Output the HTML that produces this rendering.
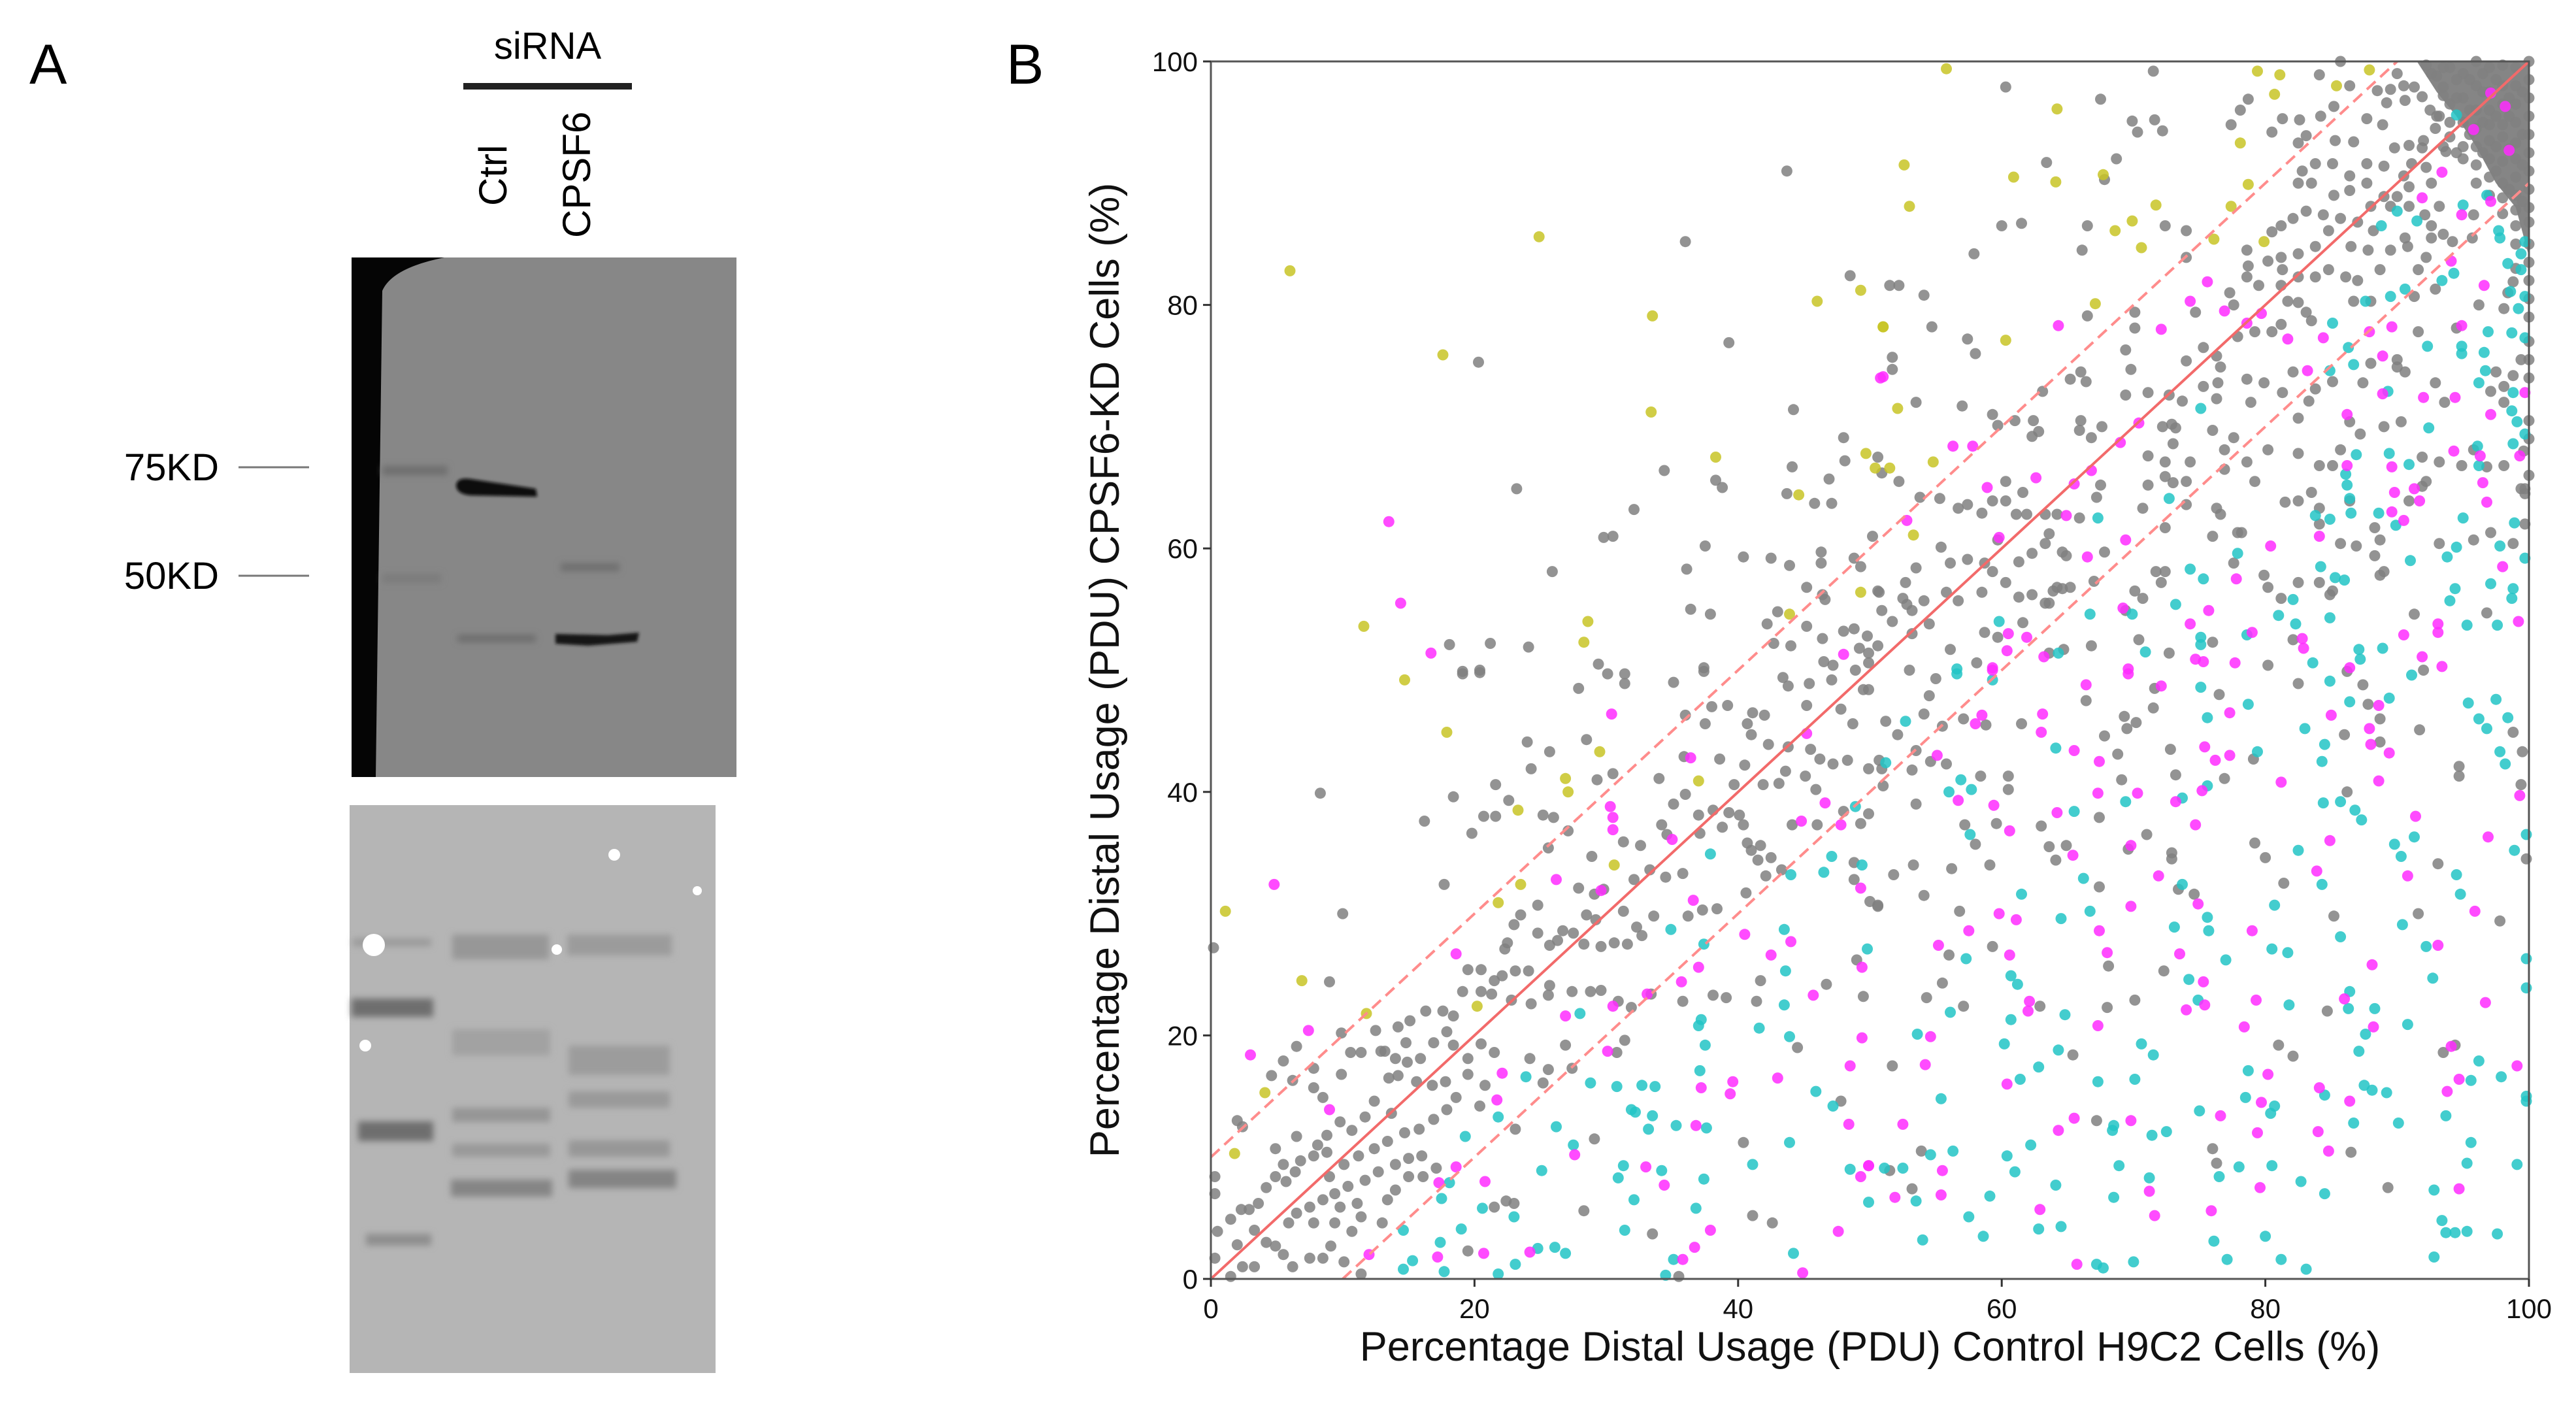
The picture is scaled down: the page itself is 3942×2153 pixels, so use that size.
<!DOCTYPE html>
<html><head><meta charset="utf-8"><style>
html,body{margin:0;padding:0;background:#fff;width:3942px;height:2153px;overflow:hidden}
svg{display:block}
text{font-family:"Liberation Sans",sans-serif}
</style></head><body>
<svg id="fig" width="3942" height="2153" viewBox="0 0 3942 2153" xmlns="http://www.w3.org/2000/svg">
<defs>
<filter id="blur4"><feGaussianBlur stdDeviation="5"/></filter>
<filter id="blur2"><feGaussianBlur stdDeviation="2.5"/></filter>
</defs>
<g>
<text x="45" y="128" font-size="86">A</text>
<text x="838" y="90" font-size="58" text-anchor="middle">siRNA</text>
<rect x="709" y="127" width="258" height="10" fill="#222"/>
<text transform="translate(775,315) rotate(-90)" font-size="60">Ctrl</text>
<text transform="translate(903,364) rotate(-90)" font-size="60">CPSF6</text>
<g>
<rect x="538" y="394" width="589" height="795" fill="#878787"/>
<path d="M538,394 L680,394 Q600,410 585,445 L575,1189 L538,1189 Z" fill="#050505"/>
<g filter="url(#blur4)">
<rect x="585" y="713" width="100" height="14" fill="#6e6e6e"/>
<rect x="585" y="878" width="90" height="14" fill="#7c7c7c"/>
<rect x="858" y="862" width="90" height="12" fill="#6e6e6e"/>
<rect x="700" y="972" width="120" height="10" fill="#6a6a6a"/>
</g>
<g filter="url(#blur2)">
<path d="M698,742 Q700,730 720,733 L820,748 L822,760 L720,758 Q698,756 698,742Z" fill="#0a0a0a"/>
<path d="M850,970 L930,972 L978,968 L975,982 L900,988 L850,985Z" fill="#181818"/>
</g>
</g>
<text x="335" y="735" font-size="58" text-anchor="end">75KD</text>
<line x1="365" y1="715" x2="473" y2="715" stroke="#777" stroke-width="3"/>
<text x="335" y="901" font-size="58" text-anchor="end">50KD</text>
<line x1="365" y1="881" x2="473" y2="881" stroke="#777" stroke-width="3"/>
<g>
<rect x="535" y="1232" width="560" height="869" fill="#b5b5b5"/>
<g filter="url(#blur4)">
<rect x="540" y="1436" width="120" height="12" fill="#9a9a9a"/>
<rect x="538" y="1528" width="125" height="28" fill="#6e6e6e"/>
<rect x="548" y="1716" width="115" height="30" fill="#6e6e6e"/>
<rect x="560" y="1888" width="100" height="18" fill="#8e8e8e"/>
<rect x="692" y="1430" width="148" height="38" fill="#979797"/>
<rect x="692" y="1575" width="150" height="40" fill="#a2a2a2"/>
<rect x="692" y="1695" width="150" height="22" fill="#959595"/>
<rect x="692" y="1750" width="150" height="20" fill="#999"/>
<rect x="690" y="1805" width="155" height="26" fill="#858585"/>
<rect x="868" y="1430" width="160" height="32" fill="#9b9b9b"/>
<rect x="870" y="1600" width="155" height="45" fill="#9c9c9c"/>
<rect x="870" y="1670" width="155" height="25" fill="#9a9a9a"/>
<rect x="870" y="1745" width="155" height="25" fill="#979797"/>
<rect x="870" y="1790" width="165" height="28" fill="#848484"/>
</g>
<circle cx="572" cy="1446" r="17" fill="#fff"/>
<circle cx="559" cy="1600" r="9" fill="#fff"/>
<circle cx="852" cy="1453" r="8" fill="#fff"/>
<circle cx="940" cy="1308" r="9" fill="#fff"/>
<circle cx="1067" cy="1363" r="7" fill="#fff"/>
</g>
</g>
<g>
<text x="1540" y="128" font-size="86">B</text>
<g id="plot"></g>
</g>
</svg>
<script>
const grayPts=[[43.7,91],[36,85.2],[48.5,82.4],[39.3,76.9],[20.3,75.3],[44.2,71.4],[48,69.1],[48.1,67.2],[44.1,66.7],[34.4,66.4],[46.9,65.7],[38.3,65.6],[38.8,65],[43.7,64.5],[45.8,63.7],[47.1,63.7],[23.2,64.9],[32.1,63.2],[29.8,60.9],[30.5,61],[37.5,60.2],[40.4,59.3],[42.5,59.2],[43.9,58.6],[46.3,59.7],[46.3,58.8],[48.8,59.2],[49.3,58.5],[50.2,61],[25.9,58.1],[36.1,58.3],[45.2,56.8],[46.4,56.2],[46.6,55.8],[50.7,56.4],[36.4,55],[37.9,54.6],[43,54.8],[42.2,53.8],[45.2,53.6],[48,53.2],[48.8,53.4],[49.8,52.8],[46.4,52.6],[42.7,52.2],[44,52],[49.2,51.8],[18.1,52.1],[21.2,52.2],[24.1,51.9],[29.4,50.5],[37.4,50.2],[46.5,50.7],[47.2,50.4],[19.1,49.9],[20.4,50],
[60.3,97.9],[71.5,99.2],[67.5,96.9],[69.9,95.1],[71.6,95.2],[70.3,94.2],[72.2,94.3],[63.4,91.7],[68.7,92],[67.8,90.3],[77.4,94.8],[78.1,96],[78.7,96.9],[80.5,94.2],[81.3,95.3],[82.6,95.2],[84.1,98.9],[86.4,98],[84.2,95.5],[85.2,96.3],[87.7,95.3],[88.9,94.8],[88.5,97.6],[89.5,97.7],[90.5,98],[91.3,97.9],[91.9,97.1],[90.6,96.8],[89.2,96.6],[90,99],[92.6,99],[85.7,100],[92.2,99.7],[93.5,97.9],[82.5,93.3],[83.1,93.9],[85.3,93.5],[86.7,93.4],[89.8,92.9],[90.9,93.1],[91.9,92.9],[93.2,95.5],[92.9,94.5],[93.7,92.6],[92.2,91.3],[91.1,91.6],[90.5,90.6],[89,91.4],[87.7,91.6],[86.4,90.6],[85.1,91.6],[83.8,91.6],[82.8,91],[82.5,90],[83.5,90],[85.2,89],[86.4,89.4],[87.7,90],[89,88.9],[90,88.9],[90.9,89.7],[92.6,90],[93.2,88.1],[92.1,87.4],[90.9,88.1],[89.5,88.1],[88,88.1],[87,86.8],[85.7,87.1],[84.4,87.4],[83.1,87.7],[82.1,87.1],[81.2,86.5],[80.5,86],[78.6,84.5],[78.7,83.2],[80.2,83.6],[81.2,83.9],[81.3,82.9],[82.5,84.2],[83.8,84.8],[84.8,86.1],[86.5,84.8],[87.8,84.5],[88.2,86.1],[89.5,84.5],[90.8,84.8],[90.6,85.5],[92.6,85.5],[93.5,85.8],[92.6,86.5],[94.2,85.2],[95.7,85.5],[95.8,87.4],[84.8,82.9],[83.8,82.3],[82.5,82.3],[81.2,81.6],[79.5,81.6],[78.6,82.3],[77.3,81],[86.1,82.3],[87,82],[88.7,82.9],[91.6,82.9],[92.2,83.9],[92.9,81.3],[91.3,80.7],[88,80.3],[86.7,80.3],[82.5,80.2],[81.7,80.3],[83.1,79.4],[83.5,78.7],[81.2,78.4],[80.5,77.8],[79.2,77.8],[77.9,77.4],[77.6,80],[74.7,79.4],[70.1,79.4],[70.1,78.1],[74,83.9],[74,86.1],[72.4,86.5],[66.5,86.5],[66.1,84.5],[60,86.5],[61.5,86.7],[57.9,84.2],[51.5,81.6],[52.2,81.6],[54.1,80.8],[54.7,78.2],[57.4,77.2],[58,76],[51.7,75.7],[51.7,74.7],[53.5,72],[57,71.7],[59.3,71],[59.7,70.1],[61,70.5],[62.4,70.5],[62.8,69.6],[62.3,69.2],[63.1,72.9],[66,70.5],[65.9,69.7],[67.6,70],[66.8,69.1],[69.4,72.6],[71.1,72.8],[69.8,74.7],[69.4,76.3],[65.2,73.9],[66.4,73.7],[66,74.5],[66.5,79.1],[72.9,70.2],[73.2,69.9],[72.2,70],[72.7,72.6],[73.7,72.1],[74,75.4],[75.3,76.5],[76.3,75.8],[76.6,74.9],[76.4,73.6],[76.3,72.3],[75.3,73.3],[78.6,73.9],[78.9,72],[79.9,73.6],[81.3,72.8],[82.1,74.5],[83.3,72.1],[83.8,73.1],[85.1,73.7],[82.5,70.7],[86.4,70.4],[87.2,69.4],[89,70],[90.3,70.4],[93.6,72],[92.9,73.6],[90.6,74.5],[90,75.5],[90,74.9],[88,75.2],[87.4,73.6],[91.6,77.8],[94.5,78.1],[97.5,74.5],[98.1,73.3],[97.1,72.9],[98.8,74.2],[98.1,72],[99.4,75.5],[98.4,81],[98.8,81.9],[98.1,79.7],[96.2,80],[95.8,68.1],[98.1,66.8],[96.8,66.7],[94.9,66.8],[93.2,67.1],[91.9,67.5],[92.2,65.5],[90.9,63.9],[86.4,63.9],[85.7,68.1],[85.1,66.8],[84.1,66.8],[82.5,67.8],[80.2,68.1],[78.6,67.1],[79.2,65.5],[77.6,69.1],[76,69.7],[76.9,68.1],[76.9,66.5],[74.3,67.1],[72.4,67.1],[71.1,67.6],[73,68.6],[72.4,65.9],[74,65.5],[73,65.4],[71.1,65.2],[70.7,63.3],[72.4,61.7],[74,63.6],[76.3,63.3],[76.6,62.8],[78.2,61.3],[76,61],[81.5,63.8],[82.5,63.9],[83.5,64.6],[84.1,63.3],[84.1,62],[85.7,60.4],[86.9,60.2],[88.3,61.7],[88.7,60.7],[91.9,65.1],[93.2,60.4],[95.8,60.7],[97.1,61.3],[98.8,60.4],[99.4,64.9],[99.7,62],[96.8,54.7],[88.7,57.8],[89,58.1],[85.1,56.5],[84.1,57.2],[82.5,57.2],[81.2,55.9],[80.2,56.8],[79.9,57.8],[77.6,58.8],[77.9,61.3],[72.4,58.1],[71.7,58.1],[72.1,57.2],[70.1,56.5],[70.7,55.9],[69.4,54.9],[67,57.3],[67.8,59.7],[64.9,59.4],[64.6,56.7],[63.9,56.5],[64.2,56.8],[65.2,56.8],[63.6,55.5],[62.3,56.2],[61.3,56],[60.3,57.2],[58.5,56.4],[56.7,55.7],[55.8,56.4],[54.1,55.7],[53.2,54.9],[52.5,55.9],[52.8,55.4],[50.9,54.9],[51.7,54],[50.6,52],[49.9,50.6],[53.2,53],[54.5,53.8],[56.1,51.7],[58.1,50.6],[58.7,53.1],[59.7,52.7],[61.6,53.9],[63.3,55.5],[66.8,52],[63.6,51.4],[64.7,51.7],[70.4,52.5],[72.7,51.4],[76,52.3],[80.2,50.4],[82.1,52.5],[84.9,56.2],[88.3,59.4],[91.3,54.6],[99.7,64.9],[50.6,67.5],[49.9,51.4],[50.9,66.2],[52.2,65.5],[53.8,64.2],[55.3,64.1],[56.7,63.3],[58.5,62.9],[60.3,63.9],[61.1,62.8],[61.9,62.8],[63.3,62.8],[64.2,62.8],[65.9,62.5],[67.5,65.2],[67.2,64.2],[61.6,64.6],[60.3,65.5],[59.3,63.9],[57.4,63.6],[55.4,60.1],[56.1,58.8],[57.4,59.1],[58.7,58.8],[59.3,58.1],[59.7,60.7],[61.3,58.9],[62.3,59.6],[63.3,60.4],[63.6,61.2],[64.6,59.7],[52.7,57.2],[53.5,58.4],[50.6,56.5],
[96,100],[97,99.5],[98,99.7],[99,99.5],[100,100],[95,99],[94,99.5],[93,98.8],[96,98],[97,97.5],[98,98],[99,98],[100,98.5],[95,97],[94,96.5],[96,96],[97,96],[98,96.5],[99,96.5],[100,97],[93,95.5],[95,95],[96,94.5],[97,94.8],[98,94.8],[99,95],[100,95.5],[94,93.8],[95,93],[96,93],[97,93.5],[98,93.8],[99,93.3],[100,94],[95,92],[96,91.5],[97,92],[98,91.8],[99,92],[100,92.5],[96,90],[97,90.5],[98,90],[99,90.5],[100,91],[97,89],[98,88.8],[99,89],[100,89.5],[98,87.5],[99,87.8],[100,88],[99,86.5],[100,86.8],[99,85],[100,85],[100,83.5],[99,83],[100,82],[100,80.5],[100,79],[100,77],[100,75.5],[100,74],[100,70.5],[100,69],[99.6,68],[100,66],[99.7,64.5],[94.5,97],[95.5,98.5],[93.5,97.2],[92.5,96],[94,95],[92,93.5],[96.5,99],[97.5,98.5],[98.5,97],[99.5,97.5],[95.5,96],[96.5,95],[97.5,95.5],[98.5,95.5],[99.5,94],[96.5,92.5],[97.5,91],[98.5,92.8],[99.5,91.5],[97.5,93],[98.5,89.5],[99.5,88.5],[96.5,97.5],[94.5,98.5],[93.5,99.5],[95.5,94],[94.5,92.5],[93.5,93],
[19.1,49.7],[20.4,49.8],[27.9,48.5],[30.1,49.7],[31.4,49.7],[31.4,48.9],[35.1,49],[37.4,49.9],[43.4,49.4],[43.8,48.7],[45.4,48.9],[47.1,49.2],[48.9,50],[49.5,48.4],[24,44.1],[25.7,43.3],[28.5,44.3],[24.3,41.9],[21.6,40.6],[18.4,39.6],[22.6,39.3],[20.7,38],[21.6,38],[25.2,38.1],[26,37.9],[16.2,37.6],[19.8,36.6],[8.3,39.9],[10,30],[0.2,27.2],[17.7,32.4],[9,24.4],[29.3,41],[30.5,41.5],[27.1,36.8],[25.6,35.4],[36,46.3],[37.5,45.6],[38,47],[39.2,47.1],[38.6,42.7],[35.9,42.9],[34,41.1],[35.1,39],[36,39.8],[40.7,45.6],[41.1,46.5],[42,46.3],[41,44.7],[42.3,43.9],[43.8,43.7],[45.5,43.5],[46.2,42.7],[47.2,42.3],[48.3,42.6],[49.9,41.9],[45.2,47.1],[47.8,46.8],[48.7,45.6],[40.5,42.2],[39.7,40.6],[41.9,40.6],[43.1,40.7],[45.1,41.3],[45.9,40.2],[43.6,41.7],[38.1,38.5],[39.3,38.3],[40.1,38.1],[40.4,37.3],[37,38.1],[34.2,37.3],[34.6,36.5],[37.1,36.6],[38.8,37.1],[40.7,35.8],[41,35.2],[41.7,35.6],[42.5,34.6],[44.1,37.3],[46,37.3],[49.3,37.4],[48,38.4],[48.8,34.2],[50,31],[48.8,32.8],[43.3,33.6],[42.1,33.1],[40.6,31.7],[38.4,30.4],[37.3,30.3],[36.2,29.8],[35.8,33.3],[34.5,33],[33.3,33.6],[32.1,32.8],[32.6,35.6],[31.3,35.9],[28.9,34.7],[27.9,32.1],[29.1,31.6],[29.8,32],[31.3,30.2],[33.6,29.8],[32.3,28.9],[32.7,28.2],[31.6,27.5],[30.6,27.6],[29.6,27.3],[28.3,27.5],[29.2,29.5],[28.5,29.9],[27.5,28.4],[26.7,28.6],[26.3,27.8],[25.7,27.4],[24.8,28.4],[23.5,29.9],[24.8,30.7],[23,29.1],[22.5,27.6],[22.3,27.1],[24.1,25.3],[23.1,25.3],[22.1,24.9],[21.5,24.5],[20.5,25.4],[19.5,25.4],[19.1,23.6],[20.5,23.6],[21.3,23.4],[22.8,22.9],[24.3,22.6],[25.7,24.1],[25.6,23.3],[27.4,23.6],[28.8,23.6],[29.6,23.7],[30.9,22.8],[31.9,22.3],[33.4,23.4],[35.8,22.8],[38.1,23.3],[39.1,23.1],[41.4,22.8],[41.7,24.5],[46.7,24.2],[49.5,23.2],[49,26.2],[31.4,19.6],[30.8,18.6],[26.9,19.2],[27.4,17.3],[25.6,17.2],[25.2,16.1],[24.2,18.1],[21.5,18.6],[20.5,19.3],[19.5,18.1],[18.4,19.2],[17.9,20.3],[16.9,19.4],[15.9,18.1],[14.9,17.8],[14,18.1],[13.2,18.7],[14.2,20.7],[15.1,21.2],[16.3,22],[17.6,22],[18.4,21.6],[14.2,16.7],[15.6,16.2],[16.8,15.9],[17.8,16.2],[18.6,14.9],[19.5,16.8],[20.8,15.9],[20.4,14.2],[23.1,12.3],[17.9,13.9],[16.9,13.1],[15.8,12.3],[14.7,12],[13.7,13.6],[12.4,14.6],[11.7,13.3],[10.7,12.2],[9.8,12.9],[8.8,11.8],[8.1,11],[7.8,10.1],[6.8,9.7],[6.4,8.8],[5.7,8],[4.9,8.4],[4.2,7.5],[3.6,6.2],[2.9,5.7],[2.3,5.7],[1.5,4.9],[0.5,3.9],[0.3,1.7],[1.5,0.2],[2.4,1],[3.3,1],[4.2,3],[4.9,2.7],[5.5,2],[6.2,1],[7.5,1.7],[8.5,1.7],[9.1,2.7],[10.1,1.4],[11.4,0.4],[9.4,4.6],[10.7,3.9],[11.4,5.1],[13,4.6],[13.4,6.5],[14,7.3],[15,8.4],[16.1,8.4],[17.1,9.1],[16,10.1],[15,9.9],[14,9.4],[12.7,8.8],[11.7,8.1],[10.4,7.6],[9.4,7],[8.5,6.5],[7.5,5.9],[6.5,5.4],[5.9,4.6],[7.8,4.6],[9.8,5.9],[11.1,6.2],[9,8.4],[10.1,9.4],[11.2,10.1],[12.4,10.7],[13.4,11.3],[8.8,10.4],[6.5,11.7],[5.5,9.4],[4.9,10.7],[3.3,4],[2,2.8],[0.3,8.4],[0.3,7],[2,13],[2.4,12.5],[4.6,16.7],[5.5,17.9],[6.5,19.1],[7.8,17.3],[6.2,16.3],[7.8,15.7],[8.5,14.9],[9.9,16.8],[10.6,18.6],[11.4,18.6],[12.9,18.7],[12.5,20.4],[13.5,16.5],[14.8,19.4],[9.9,20.2],[21.5,5.9],[23,6.2],[19.5,2.3],[22.4,6.4],[28.3,5.6],[29.1,11.5],[33.5,3.7],[35.5,0.2],[40.4,11.2],[41.1,5.2],[42.6,4.6],[44.5,19],[47.8,14.6],[50.6,30.7],[41.5,34.4],[50.7,42.6],
[49.9,48.4],[53,50],[55,49.3],[54.5,47.9],[54.1,46.4],[51.2,45.8],[52.1,44.7],[55.5,45.4],[57.1,46],[58.8,45.5],[61.5,45.6],[53.5,43.4],[50.9,41.9],[53.2,41.8],[54.6,42.5],[55.8,42.3],[58.4,41.3],[60.5,41.3],[60.5,40.2],[51,40.5],[53.5,39],[49.9,38.2],[57.2,37.3],[59.6,37.4],[58,35.7],[63,37.2],[63.6,35.5],[64.1,34.4],[64.9,35.6],[67.4,37.9],[67.8,44.6],[68.8,43.1],[69.1,41],[69.3,46.2],[70.2,45.7],[69.5,45.2],[71.5,46.9],[66.4,47.5],[71.6,48.5],[76.5,48],[72.8,43.5],[73.2,41.4],[76.9,41.1],[71,36.5],[72.9,35],[72.9,34.5],[69.6,35.3],[67.4,32.2],[73.4,32],[74.6,31.6],[51.8,33.2],[53.3,34],[56.2,33.7],[59.1,34],[54.1,31.5],[50.6,30.6],[56.8,30.2],[56,26.6],[59.3,27.3],[55.5,24.3],[54.3,23.1],[57.1,22.4],[62.9,22.4],[68,22.3],[68.1,25.7],[72.3,25.3],[70.1,22.9],[79.1,42.7],[79.2,35.8],[80,34.6],[81.4,32.5],[82.5,48.9],[86.2,49.9],[87.4,48.8],[87.8,47.2],[88.7,46],[86,44.7],[88.7,44.1],[91.7,45.1],[94.7,42.1],[94.7,41.3],[86.2,40],[92,50],[98.8,44.9],[99.5,43.3],[99.4,40.6],[99.8,34.5],[93.1,34.1],[97.8,29.4],[91.6,30],[85.2,29.8],[84.7,22],[81,19.2],[82.1,18.3],[93.5,18.6],[94.4,19.2],[86.5,10.4],[89.3,7.5],[76,10.7],[76.3,9.5],[67.2,13],[65.4,18.4],[53.9,10.5],[51.5,8.9],[53.2,7.4],[51.7,17.5]];
const cyanPts=[[56.6,49.7],[59.3,49.2],[52.7,45.8],[51.2,42.4],[56.9,41],[56,40],[57.7,40.2],[57.6,36.5],[61.5,31.6],[64.1,43.6],[65.5,38.4],[66.2,32.9],[66.7,30.2],[64.5,29.6],[57.3,26.3],[60.7,24.9],[61.2,24.2],[60.7,21.3],[56.1,21.9],[53.6,20.1],[60.2,19.3],[64.8,21.7],[64.3,18.8],[62.8,17.4],[61.4,16.4],[55.4,14.8],[52.5,9.1],[51.1,9.1],[53.5,6.4],[54.6,10.2],[56.3,10.5],[57.5,5.1],[58.6,3.5],[54,3.2],[59.1,6.8],[60.4,10.1],[61,8.8],[62.2,11],[64.1,7.7],[62.8,4.1],[64.5,4.3],[67.3,16.2],[70.1,16.4],[68.5,12.6],[68.4,12.2],[68.9,9.3],[68.5,6.7],[67.2,1.2],[67.7,0.9],[70,1.4],[71.2,8.3],[71.4,11.8],[72.5,12.1],[70.6,19.3],[71.5,18.4],[73.1,28.9],[73.7,32.4],[75.6,29.7],[75.7,28.6],[74.2,24.6],[74.9,22.9],[77,26.2],[75.6,46.1],[75.1,48.6],[78.7,47.2],[79.4,43.3],[73.7,39.5],[75.6,40.5],[69.4,39.2],[78.7,17.1],[78.5,14.9],[80.7,14.2],[80.4,13.6],[75,13.8],[76.5,8.4],[78,9.2],[80.5,9.3],[76.1,3.1],[77.1,1.6],[80,3.5],[81.2,1.6],[83.1,0.8],[82.7,8],[84.5,7],[84.5,15.1],[87.5,15.9],[88.1,15.5],[89.2,15.3],[86.7,12.8],[90.1,12.8],[93.7,13.4],[95.6,11.2],[95.3,9.5],[99.1,9.4],[99.8,15],[97.9,16.6],[96.2,17.9],[95.6,16.3],[92.8,7.3],[93.4,4.8],[92.8,1.8],[87.1,18.7],[87.6,20.1],[90.8,20.9],[88.3,22.2],[86.3,22.2],[86.4,23.6],[81.8,22.5],[80.5,27.1],[81.7,26.8],[80.7,30.7],[84.3,32.4],[85.7,28.1],[82.5,35.2],[90.4,29.1],[92.2,27.3],[92.7,24.7],[94.8,31.6],[94.5,33.2],[89.8,35.7],[90.3,34.7],[91.3,36.3],[84.4,39.1],[85.7,39.2],[86.8,38.5],[87.3,37.7],[84.3,42.5],[84.5,43.9],[83,45.2],[84.9,49.1],[86.4,47.4],[89.4,47.7],[91.1,49.6],[95.4,47.3],[97.5,47.6],[96.2,46],[98.4,46.1],[96.8,45.2],[97.8,43.3],[98.2,42.3],[98.9,35.2],[99.8,36.5],[99.8,26.3],[99.8,23.9],[99.8,14.6],[94.4,3.8],[97.6,3.7],[95.3,3.9],[93.7,3.8],
[37.9,34.9],[44,33.2],[47.1,34.7],[46.5,33.4],[49.4,34],[48.9,38.8],[34.9,28.7],[43.5,28.7],[37.4,27.5],[49.8,27.1],[43.6,25.3],[43.5,22.5],[37.2,21.3],[37,20.8],[37.5,19.2],[41.6,20.6],[43.9,19.9],[37.1,17.1],[45.9,15.4],[47.2,14.2],[28,21.8],[23.9,16.6],[28.8,16.1],[30.8,15.8],[32.7,15.9],[33.7,15.8],[31.9,13.9],[32.2,13.7],[33.5,13.4],[33.2,12.3],[35.3,12.6],[37.6,12.4],[26.2,12.5],[27.5,11],[21.8,13.3],[19.3,11.7],[31.3,9.3],[30.9,8.3],[34.2,8.9],[37.4,8.2],[41.1,9.4],[43.9,11.2],[32.1,6.5],[36.8,5.8],[25.1,8.9],[18.1,7.9],[17.5,6.6],[20.6,5.8],[23,5.1],[19,4.1],[14.6,4],[17.4,3],[24.8,2.5],[26.1,2.6],[26.9,2.1],[23.1,1.2],[15.3,1.5],[14.6,0.8],[17.7,0.6],[21.8,0.4],[31.4,4],[35.1,1.6],[34.5,0.3],[44.2,2.1],[48.5,9],[49.9,6.3],
[94.5,95.6],[90,87.7],[91.5,86.9],[88.8,86.5],[95,88.2],[96.8,89],[97.7,86.1],[97.8,85.5],[99.7,85.2],[99.4,84.2],[98.4,83.4],[99.4,82.9],[93.4,82],[94.3,82.6],[90.6,81.3],[89.5,80.7],[87.6,80.3],[98.6,81.1],[99.7,80.7],[99.2,79.7],[96.9,77.8],[98.7,77.7],[99.7,77.3],[94.9,76.6],[94.9,76],[96.6,76.1],[85.1,78.5],[86.3,76.5],[86.7,75.1],[84.9,74.6],[92.3,76.6],[96.7,74.6],[96.2,73.6],[98.8,72.8],[98.7,71.3],[99.1,70.4],[99.7,69.4],[98.8,68.6],[96.1,68.4],[96.2,66.8],[92.4,69.9],[89.3,72.9],[89.4,67.8],[86.9,67.7],[90.9,66.9],[86.1,66.1],[86.2,65.2],[86.4,64.1],[86.5,62.9],[88.6,62.9],[83.8,62.7],[84.9,62.4],[89.9,61.9],[95,62.5],[98.9,62.1],[97.8,60.2],[94.5,60.1],[91,59],[93.8,59.3],[99.7,59.2],[75.1,71.5],[72.7,64.1],[67.3,62.5],[77.9,59.6],[74.3,58.3],[75.3,57.5],[84.2,58.5],[85.3,57.6],[86,57.4],[82.1,55.8],[81,54.5],[82.3,53.8],[84.9,54.3],[78.6,52.9],[75.1,52.7],[75.1,52.1],[73.2,55.4],[69.9,54.6],[66.7,54.6],[59.8,54],[64.3,51.4],[70.9,51.5],[87.1,51.7],[88.9,51.8],[87.2,50.9],[83.6,50.6],[94.4,56.7],[94,55.7],[97.1,57.1],[98.8,56.7],[98.7,55.9],[95.3,53.7],[97.6,53.7],[56.6,50.1]];
const magentaPts=[[59.3,50],[69.6,49.7],[66.4,48.8],[72.1,48.7],[58.5,46.3],[58,45.6],[63.1,46.4],[63,44.9],[55.1,43],[65.5,43.4],[67.4,42.5],[67.3,39.9],[70.3,39.9],[56.7,39.3],[59.4,38.9],[60.6,36.8],[64.2,38.3],[65.4,34.8],[69.8,35.6],[73.2,39.2],[75.2,40.1],[74.7,37.3],[75.4,43.7],[76.2,42.6],[77.3,43],[77.3,46.5],[81.2,40.8],[85,46.3],[87.9,45.2],[88,43.9],[88.6,47.1],[89.4,43.2],[88.6,40.9],[84.9,36],[83.9,33.5],[90.8,33.1],[91.4,38],[96.9,36.3],[99.3,39.7],[95.9,30.2],[93.1,27.4],[88.1,25.8],[86,23],[88.2,20.7],[96.7,22.7],[79,28.6],[79.3,22.9],[78.4,20.7],[74,22.1],[75.4,22.5],[75.3,24.4],[73.5,26.7],[74.9,30.8],[71.9,33.1],[69.8,30.6],[67.4,28.6],[68,26.8],[67.3,20.8],[61.1,29.5],[59.8,30],[57.5,28.6],[55.2,27.4],[60.6,26.6],[62.1,22.8],[62,22],[54.6,19.9],[54.2,17.6],[60.4,16],[52.5,12.7],[55.5,8.9],[55.4,6.9],[51.9,6.7],[49.9,9.3],[62.9,5.7],[65.5,13.2],[64.3,12.2],[69.8,13],[71.2,7.2],[71.6,5.2],[65.7,1.2],[76.6,13.4],[75.9,5.6],[79.4,12],[79.6,7.5],[79.7,14.5],[80.2,16.8],[84.1,15.7],[84,12.1],[84.8,10.5],[86.4,14.6],[93.8,15.4],[94.7,16.4],[94.1,19.1],[99.1,17.5],[94.7,7.4],
[30.4,46.4],[36.4,42.8],[30.3,38.8],[30.5,37.9],[30.5,36.9],[35,36.1],[26.2,32.8],[29.6,31.9],[45.2,44.8],[46.6,39.1],[44.8,37.6],[47.8,37.3],[49.3,32.1],[36.6,31.1],[40.5,28.3],[44,27.7],[42.5,26.6],[37,25.6],[35.7,24.4],[33.1,23.4],[45.7,23.3],[49.4,25.6],[30.5,22.4],[26.9,21.6],[30.1,18.7],[49.4,19.8],[48.5,17.5],[43,16.5],[39.6,16.2],[39.4,15.2],[37.2,15.7],[48.4,12.7],[36.8,12.6],[33,9.2],[34.4,7.7],[49.9,9.3],[49.3,8.4],[37.9,4],[47.6,3.9],[36.7,2.6],[35.8,1.6],[44.9,0.5],[22.1,16.9],[21.7,14.7],[27.6,10.2],[20.8,8],[18.6,9.2],[17.3,7.9],[20.7,2.1],[24.2,2.2],[17.2,1.8],[12,2],[18.6,26.7],[4.8,32.4],[7.4,20.4],[3,18.4],[9,13.9],
[13.5,62.2],[14.4,55.5],[16.7,51.4],[51,74.1],[48,51.3],
[97.1,97.4],[98.2,96.3],[95.8,94.4],[98.5,92.7],[93.4,90.9],[91.9,88.8],[97.1,88.5],[94.9,87.4],[94.1,83.6],[96.6,81.6],[75.6,81.9],[74.3,80.3],[76.9,79.5],[64.3,78.3],[72.1,78],[78.6,78.5],[79.7,79.3],[81.7,77.2],[84.4,77.3],[87.9,77.8],[89.6,78.2],[94.9,78.3],[88.9,75.8],[83.2,74.6],[88.9,72.7],[92,72.4],[94.4,72.4],[86.2,71],[97.1,71],[99.7,72.8],[94.3,68],[99.3,67.6],[86.2,66.8],[89.6,66.7],[96.3,67.6],[89.8,64.6],[91.3,64.9],[96.5,65.4],[91.7,63.9],[96.8,63.8],[89.6,63],[90.5,62.3],[84.1,61],[80.4,60.2],[98,58.5],[77.8,57.5],[50.8,74],[56.3,68.4],[57.8,68.4],[52.8,62.3],[58.9,65],[62.6,65.8],[65.5,65.3],[64.9,62.7],[66.8,66.4],[69,68.7],[70.4,70.3],[59.8,60.9],[66.5,59.3],[69.4,60.7],[69.2,55.1],[75.7,54.9],[74.3,53.8],[60.5,53],[61.9,52.7],[60.4,51.6],[63.2,51.1],[59.3,50.2],[69.6,50.1],[74.7,50.9],[75.3,50.7],[77.7,50.6],[79,53.1],[82.8,52.6],[82.9,51.8],[90.5,52.9],[91.9,51.1],[93.1,53.8],[93.1,53.1],[93.4,50.3],[99.2,54],[86.4,50.2]];
const yellowPts=[[14.7,49.2],[17.9,44.9],[29.5,43.3],[26.9,41.1],[27.1,40],[23.3,38.5],[30.6,34],[23.5,32.4],[21.8,30.9],[1.1,30.2],[6.9,24.5],[11.8,21.8],[20.2,22.4],[4.1,15.3],[1.8,10.3],[37,40.9],
[6,82.8],[24.9,85.6],[33.5,79.1],[17.6,75.9],[33.4,71.2],[38.3,67.5],[46,80.3],[49.3,81.2],[51,78.2],[49.7,67.8],[50.4,66.6],[44.6,64.4],[49.3,56.4],[43.9,54.6],[28.6,54],[28.3,52.3],[11.6,53.6],
[55.8,99.4],[79.4,99.2],[81.1,98.9],[80.7,97.3],[85.4,98],[87.9,99.3],[64.2,96.1],[52.6,91.5],[60.9,90.5],[64.1,90.1],[67.7,90.7],[53,88.1],[71.7,88.2],[78.1,93.3],[78.7,89.9],[77.4,88.1],[69.9,86.9],[68.6,86.1],[76.1,85.4],[70.6,84.7],[79.9,85.2],[67.1,80.1],[51,78.2],[60.3,77.1],[52.1,71.5],[54.8,67.1],[51.5,66.6],[53.3,61.1]];
// saturated dense cluster outline (data units) at upper right
const denseX=[91.5,100,100,99,97.5,96,94.5,93];
const denseY=[100,100,84,88,90,93,95.5,97.5];
const xTicks=[0,20,40,60,80,100];
const yTicks=[0,20,40,60,80,100];
const xLabel="Percentage Distal Usage (PDU) Control H9C2 Cells (%)";
const yLabel="Percentage Distal Usage (PDU) CPSF6-KD Cells (%)";

const X0=1853,X1=3870,Y0=1957,Y1=94;
function sx(v){return X0+(X1-X0)*v/100;}
function sy(v){return Y0-(Y0-Y1)*v/100;}
const NS="http://www.w3.org/2000/svg";
const plot=document.getElementById('plot');
function mk(tag,attrs,parent){const e=document.createElementNS(NS,tag);for(const k in attrs)e.setAttribute(k,attrs[k]);(parent||plot).appendChild(e);return e;}

const dense=mk('polygon',{points:denseX.map((x,i)=>sx(x)+','+sy(denseY[i])).join(' '),fill:'#858585'});



const series=[[grayPts,'#808080','gray-point'],[cyanPts,'#22c4c6','cyan-point'],[magentaPts,'#ff2cff','magenta-point'],[yellowPts,'#c8c426','yellow-point']];
for(const s of series){
  const g=mk('g',{});
  
  
  for(const p of s[0]){
    const c=mk('circle',{cx:sx(p[0]).toFixed(1),cy:sy(p[1]).toFixed(1),r:8.5,fill:s[1],'fill-opacity':0.85},g);
    
    
  }
}
const refs=[[0,'none','diagonal-line','#f26a6a'],[10,'18 10','upper-threshold-line','#ff8c8c'],[-10,'18 10','lower-threshold-line','#ff8c8c']];
for(const r of refs){
  const off=r[0];
  const xa=Math.max(0,-off), xb=Math.min(100,100-off);
  const l=mk('line',{x1:sx(xa),y1:sy(xa+off),x2:sx(xb),y2:sy(xb+off),stroke:r[3],'stroke-width':4,'stroke-dasharray':r[1]});
  
  
}
const fr=mk('rect',{x:X0,y:Y1,width:X1-X0,height:Y0-Y1,fill:'none',stroke:'#555','stroke-width':3});


for(const t of xTicks){
  const tk=mk('line',{x1:sx(t),y1:Y0,x2:sx(t),y2:Y0+12,stroke:'#333','stroke-width':3});
  
  
  const tx=mk('text',{x:sx(t),y:Y0+60,'font-size':42,'text-anchor':'middle',fill:'#111'});
  tx.textContent=t;
  
  
}
for(const t of yTicks){
  const tk=mk('line',{x1:X0-12,y1:sy(t),x2:X0,y2:sy(t),stroke:'#333','stroke-width':3});
  
  
  const tx=mk('text',{x:X0-20,y:sy(t)+15,'font-size':42,'text-anchor':'end',fill:'#111'});
  tx.textContent=t;
  
  
}
const xl=mk('text',{x:(X0+X1)/2,y:2082,'font-size':63,'text-anchor':'middle',fill:'#111'});
xl.textContent=xLabel;


const yl=mk('text',{transform:'translate(1712,'+((Y0+Y1)/2)+') rotate(-90)','font-size':63,'text-anchor':'middle',fill:'#111'});
yl.textContent=yLabel;


</script>
</body></html>
